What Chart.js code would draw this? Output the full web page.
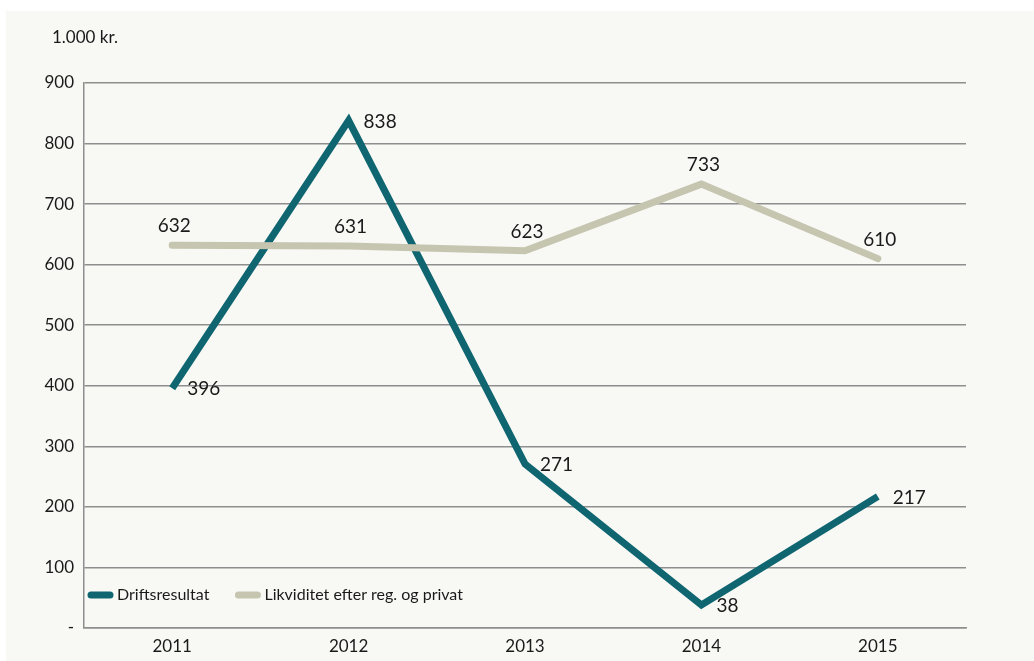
<!DOCTYPE html>
<html>
<head>
<meta charset="utf-8">
<script src="https://cdn.jsdelivr.net/npm/chart.js@4.4.1/dist/chart.umd.min.js"></script>
<style>
  html, body { margin: 0; padding: 0; background: #ffffff; }
  #panel {
    position: absolute;
    left: 6px;
    top: 11px;
    width: 1028px;
    height: 650px;
    background: #f8f8f5;
  }
  #chart { display: block; }
</style>
</head>
<body>
<div id="panel"><canvas id="chart" width="1028" height="650"></canvas></div>
<script>
"use strict";

const years = ['2011', '2012', '2013', '2014', '2015'];
const drifts_values = [396, 838, 271, 38, 217];
const likviditet_values = [632, 631, 623, 733, 610];
const series_labels = ['Driftsresultat', 'Likviditet efter reg. og privat'];
const unit_label = '1.000 kr.';

const teal = '#0f6670';
const beige = '#c6c5b0';
const grid_color = '#8e8e8e';
const text_color = '#1a1a1a';
const font_family = 'Lato';

// draws value labels, the unit text and the legend inside the plot
const label_plugin = {
  id: 'label_plugin',
  afterDatasetsDraw(chart) {
    const ctx = chart.ctx;
    const area = chart.chartArea;
    ctx.save();
    ctx.fillStyle = text_color;

    // value labels
    ctx.font = '19px ' + font_family;
    chart.data.datasets.forEach((ds, i) => {
      const meta = chart.getDatasetMeta(i);
      meta.data.forEach((pt, j) => {
        const txt = String(ds.data[j]);
        ctx.textBaseline = 'middle';
        if (ds.label === series_labels[0]) {
          ctx.textAlign = 'left';
          ctx.fillText(txt, pt.x + 15, pt.y + 1);
        } else {
          ctx.textAlign = 'center';
          ctx.fillText(txt, pt.x + 2, pt.y - 19);
        }
      });
    });

    // unit label above the axis
    ctx.font = '17px ' + font_family;
    ctx.textAlign = 'left';
    ctx.textBaseline = 'middle';
    ctx.fillText(unit_label, area.left - 32, 27);

    // legend
    ctx.font = '16px ' + font_family;
    let x = area.left + 4;
    const y = area.bottom - 33;
    chart.data.datasets.forEach((ds) => {
      ctx.beginPath();
      ctx.moveTo(x + 3, y);
      ctx.lineTo(x + 22, y);
      ctx.lineWidth = 7;
      ctx.lineCap = 'round';
      ctx.strokeStyle = ds.borderColor;
      ctx.stroke();
      ctx.fillText(ds.label, x + 29, y);
      x += 29 + ctx.measureText(ds.label).width + 26;
    });
    ctx.restore();
  }
};

new Chart(document.getElementById('chart'), {
  type: 'line',
  data: {
    labels: years,
    datasets: [
      {
        label: series_labels[0],
        data: drifts_values,
        borderColor: teal,
        backgroundColor: teal,
        borderWidth: 7,
        borderJoinStyle: 'miter',
        borderCapStyle: 'butt',
        pointRadius: 0,
        tension: 0,
        order: 1,
      },
      {
        label: series_labels[1],
        data: likviditet_values,
        borderColor: beige,
        backgroundColor: beige,
        borderWidth: 7,
        borderJoinStyle: 'miter',
        borderCapStyle: 'round',
        pointRadius: 0,
        tension: 0,
        order: 0,
      },
    ],
  },
  options: {
    responsive: false,
    animation: false,
    layout: { padding: { top: 72, right: 68, left: 0, bottom: 0 } },
    plugins: {
      legend: { display: false },
      tooltip: { enabled: false },
    },
    scales: {
      x: {
        offset: true,
        grid: { display: false, drawTicks: false },
        border: { display: true, color: grid_color, width: 1.5 },
        ticks: {
          color: text_color,
          font: { family: font_family, size: 17 },
          padding: 8,
        },
        afterFit(scale) { scale.height = 33; },
      },
      y: {
        min: 0,
        max: 900,
        grid: { color: grid_color, lineWidth: 1.5, drawTicks: false },
        border: { display: true, color: grid_color, width: 1.5 },
        ticks: {
          stepSize: 100,
          color: text_color,
          font: { family: font_family, size: 17 },
          padding: 10,
          callback: (v) => (v === 0 ? '-' : v),
        },
        afterFit(scale) { scale.width = 78; },
      },
    },
  },
  plugins: [label_plugin],
});
</script>
</body>
</html>
